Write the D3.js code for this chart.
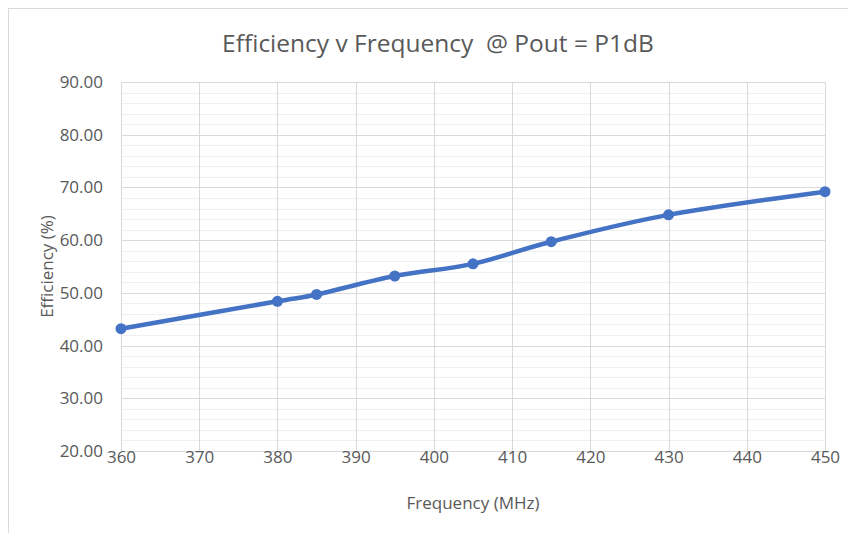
<!DOCTYPE html>
<html>
<head>
<meta charset="utf-8">
<script src="https://cdn.jsdelivr.net/npm/d3@7"></script>
<style>
  html, body { margin: 0; padding: 0; background: #fff; }
  svg { display: block; }
  text { font-family: "Open Sans", "Noto Sans", sans-serif; fill: #595959; }
</style>
</head>
<body>
<svg id="chart" width="848" height="533"></svg>
<script>
// Measured efficiency at P1dB across the band
const frequencies = [360, 380, 385, 395, 405, 415, 430, 450];
const efficiency = [43.2, 48.4, 49.7, 53.2, 55.5, 59.7, 64.8, 69.2];
const xTicks = [360, 370, 380, 390, 400, 410, 420, 430, 440, 450];
const yTicks = [20, 30, 40, 50, 60, 70, 80, 90];

const svg = d3.select("#chart");
const W = 848, H = 533;
const plot = { left: 121, right: 825, top: 82, bottom: 451 };

// Chart frame
svg.append("rect")
  .attr("x", 8.5).attr("y", 8.5)
  .attr("width", W + 10).attr("height", H + 10)
  .attr("fill", "#fff").attr("stroke", "#d9d9d9").attr("stroke-width", 1);

const x = d3.scaleLinear().domain([360, 450]).range([plot.left, plot.right]);
const y = d3.scaleLinear().domain([20, 90]).range([plot.bottom, plot.top]);

// Minor horizontal gridlines every 2 %
const minor = d3.range(20, 90.01, 2).filter(v => v % 10 !== 0);
svg.append("g").selectAll("line").data(minor).join("line")
  .attr("x1", plot.left).attr("x2", plot.right)
  .attr("y1", d => Math.round(y(d)) + 0.5).attr("y2", d => Math.round(y(d)) + 0.5)
  .attr("stroke", "#f0f0f0").attr("stroke-width", 1);

// Major gridlines
svg.append("g").selectAll("line").data(yTicks).join("line")
  .attr("x1", plot.left).attr("x2", plot.right)
  .attr("y1", d => Math.round(y(d)) + 0.5).attr("y2", d => Math.round(y(d)) + 0.5)
  .attr("stroke", "#d9d9d9").attr("stroke-width", 1);
svg.append("g").selectAll("line").data(xTicks).join("line")
  .attr("y1", plot.top).attr("y2", plot.bottom)
  .attr("x1", d => Math.round(x(d)) + 0.5).attr("x2", d => Math.round(x(d)) + 0.5)
  .attr("stroke", "#d9d9d9").attr("stroke-width", 1);

// Axes (labels only; gridlines drawn above)
const yAxis = svg.append("g")
  .attr("transform", `translate(${plot.left},0)`)
  .call(d3.axisLeft(y).tickValues(yTicks).tickFormat(d3.format(".2f")).tickSize(0).tickPadding(18));
yAxis.select(".domain").remove();
yAxis.selectAll("text").style("font-size", "17px").attr("fill", "#595959");

const xAxis = svg.append("g")
  .attr("transform", `translate(0,${plot.bottom})`)
  .call(d3.axisBottom(x).tickValues(xTicks).tickFormat(d3.format("d")).tickSize(0).tickPadding(0));
xAxis.select(".domain").remove();
xAxis.selectAll("text").style("font-size", "17px").attr("fill", "#595959");

// Series line and markers
const line = d3.line()
  .x((d, i) => x(frequencies[i]))
  .y(d => y(d))
  .curve(d3.curveCatmullRom.alpha(0));
svg.append("path")
  .datum(efficiency)
  .attr("d", line)
  .attr("fill", "none")
  .attr("stroke", "#4472c4")
  .attr("stroke-width", 4.5)
  .attr("stroke-linecap", "round")
  .attr("stroke-linejoin", "round");
svg.append("g").selectAll("circle").data(efficiency).join("circle")
  .attr("cx", (d, i) => x(frequencies[i]))
  .attr("cy", d => y(d))
  .attr("r", 5.5)
  .attr("fill", "#4472c4");

// Titles
svg.append("text")
  .attr("x", 438).attr("y", 52)
  .attr("text-anchor", "middle")
  .style("font-size", "24.5px")
  .style("white-space", "pre")
  .text("Efficiency v Frequency  @ Pout = P1dB");
svg.append("text")
  .attr("x", 473).attr("y", 509)
  .attr("text-anchor", "middle")
  .style("font-size", "17px")
  .text("Frequency (MHz)");
svg.append("text")
  .attr("transform", `translate(53,${(plot.top + plot.bottom) / 2}) rotate(-90)`)
  .attr("text-anchor", "middle")
  .style("font-size", "17px")
  .text("Efficiency (%)");
</script>
</body>
</html>
